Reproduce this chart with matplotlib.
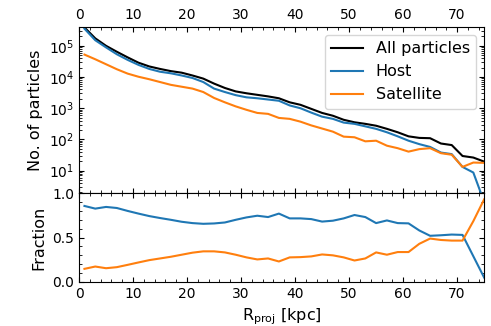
import numpy as np
import matplotlib
matplotlib.use('Agg')
import matplotlib.pyplot as plt
from matplotlib.ticker import AutoMinorLocator

# radial bin centres [kpc]
r_proj = [1, 3, 5, 7, 9, 11, 13, 15, 17, 19, 21, 23, 25, 27, 29, 31, 33, 35, 37,
          39, 41, 43, 45, 47, 49, 51, 53, 55, 57, 59, 61, 63, 65, 67, 69, 71, 73, 75]

# log10 of particle counts
log_all = [5.59, 5.24, 5.00, 4.81, 4.63, 4.46, 4.34, 4.26, 4.19, 4.14, 4.05, 3.95, 3.79,
           3.65, 3.54, 3.48, 3.43, 3.38, 3.32, 3.19, 3.11, 2.98, 2.85, 2.76, 2.63, 2.55,
           2.50, 2.44, 2.34, 2.23, 2.10, 2.05, 2.04, 1.87, 1.82, 1.47, 1.42, 1.29]
log_host = [5.55, 5.18, 4.95, 4.73, 4.55, 4.39, 4.26, 4.17, 4.12, 4.05, 3.97, 3.84, 3.63,
            3.52, 3.42, 3.35, 3.32, 3.28, 3.24, 3.09, 3.00, 2.86, 2.73, 2.66, 2.54, 2.50,
            2.42, 2.34, 2.23, 2.10, 1.96, 1.85, 1.76, 1.58, 1.53, 1.12, 0.94, 0.0]
log_sat = [4.72, 4.57, 4.41, 4.25, 4.11, 4.01, 3.93, 3.84, 3.75, 3.69, 3.63, 3.52, 3.33,
           3.19, 3.06, 2.95, 2.85, 2.82, 2.69, 2.66, 2.57, 2.45, 2.35, 2.25, 2.09, 2.07,
           1.94, 1.96, 1.80, 1.72, 1.61, 1.69, 1.72, 1.56, 1.51, 1.12, 1.26, 1.25]

# fractions
frac_host = [0.856, 0.826, 0.845, 0.833, 0.80, 0.77, 0.742, 0.72, 0.70, 0.678, 0.663,
             0.655, 0.659, 0.67, 0.70, 0.727, 0.746, 0.731, 0.77, 0.716, 0.716, 0.708,
             0.68, 0.69, 0.716, 0.754, 0.731, 0.663, 0.693, 0.663, 0.66, 0.58, 0.52,
             0.526, 0.534, 0.53, 0.29, 0.05]
frac_sat = [0.148, 0.174, 0.155, 0.167, 0.193, 0.22, 0.246, 0.265, 0.284, 0.307, 0.33,
            0.345, 0.345, 0.333, 0.307, 0.277, 0.254, 0.265, 0.231, 0.277, 0.28, 0.288,
            0.31, 0.30, 0.277, 0.242, 0.265, 0.333, 0.307, 0.337, 0.337, 0.43, 0.489,
            0.473, 0.466, 0.466, 0.685, 0.93]

r = np.array(r_proj)
n_all = 10 ** np.array(log_all)
n_host = 10 ** np.array(log_host)
n_sat = 10 ** np.array(log_sat)

fig, (ax1, ax2) = plt.subplots(2, 1, figsize=(4.91, 3.26), dpi=100, sharex=True,
                               gridspec_kw={'height_ratios': [1.87, 1], 'hspace': 0})
plt.subplots_adjust(left=0.161, right=0.986, top=0.917, bottom=0.135)

ax1.plot(r, n_all, color='k', lw=1.5, label='All particles')
ax1.plot(r, n_host, color='C0', lw=1.5, label='Host')
ax1.plot(r, n_sat, color='C1', lw=1.5, label='Satellite')
ax1.set_yscale('log')
ax1.set_ylim(1.9, 4e5)
ax1.set_xlim(0, 75)
ax1.set_ylabel('No. of particles', fontsize=11.5)
ax1.legend(loc='upper right', fontsize=11.5, handlelength=2.0)
ax1.tick_params(which='both', direction='in', top=True, right=True,
                labeltop=True, labelbottom=False)

ax2.plot(r, frac_host, color='C0', lw=1.5)
ax2.plot(r, frac_sat, color='C1', lw=1.5)
ax2.set_ylim(0, 1)
ax2.set_yticks([0.0, 0.5, 1.0])
ax2.set_ylabel('Fraction', fontsize=11.5)
ax2.set_xlabel(r'R$_{\rm proj}$ [kpc]', fontsize=11.5)
ax2.tick_params(which='both', direction='in', top=True, right=True)

for ax in (ax1, ax2):
    ax.xaxis.set_minor_locator(AutoMinorLocator(5))
ax2.yaxis.set_minor_locator(AutoMinorLocator(5))

fig.savefig('out.png', dpi=100)
